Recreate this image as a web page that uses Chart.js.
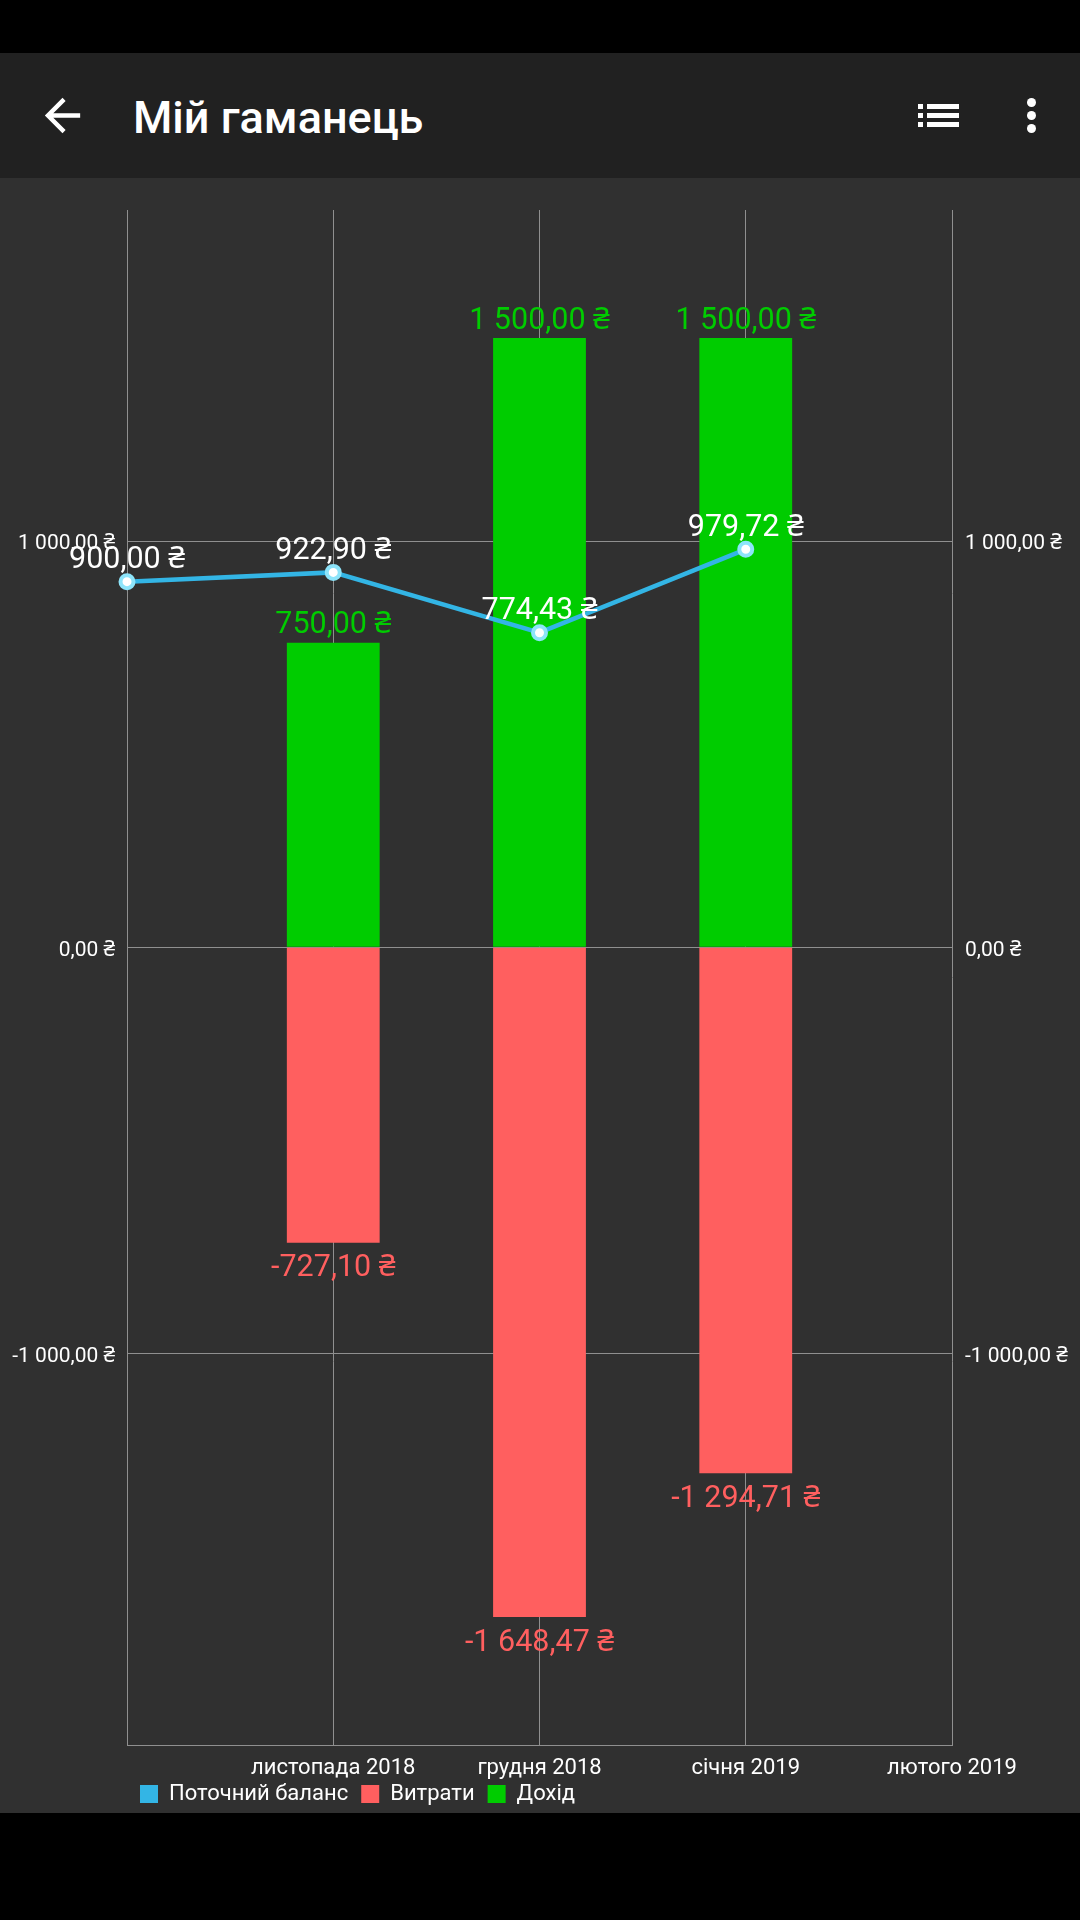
<!DOCTYPE html>
<html>
<head>
<meta charset="utf-8">
<script src="https://cdn.jsdelivr.net/npm/chart.js@4/dist/chart.umd.min.js"></script>
<style>
  html, body { margin:0; padding:0; width:1080px; height:1920px; background:#000; overflow:hidden; font-family: Roboto, "Noto Sans", sans-serif; }
  #toolbar { position:absolute; left:0; top:53px; width:1080px; height:125px; background:#212121; }
  #title { position:absolute; left:133px; top:88px; height:60px; line-height:60px; font-size:45px; font-weight:500; color:#fff; white-space:nowrap; }
  #panel { position:absolute; left:0; top:178px; width:1080px; height:1635px; background:#303030; }
  #chart { position:absolute; left:0; top:0; }
  svg { position:absolute; }
</style>
</head>
<body>
<div id="toolbar"></div>
<svg style="left:36px;top:89px" width="53" height="53" viewBox="0 0 24 24"><path fill="#fff" d="M20 11H7.83l5.59-5.59L12 4l-8 8 8 8 1.41-1.41L7.83 13H20v-2z"/></svg>
<div id="title">Мій гаманець</div>
<svg style="left:910px;top:96px" width="60" height="40" viewBox="0 0 60 40">
  <rect x="8" y="8" width="5" height="5" fill="#fff"/><rect x="17" y="8" width="32" height="5" fill="#fff"/>
  <rect x="8" y="17" width="5" height="5" fill="#fff"/><rect x="17" y="17" width="32" height="5" fill="#fff"/>
  <rect x="8" y="26" width="5" height="5" fill="#fff"/><rect x="17" y="26" width="32" height="5" fill="#fff"/>
</svg>
<svg style="left:1011px;top:90px" width="40" height="52" viewBox="0 0 40 52">
  <circle cx="20.5" cy="12.5" r="4.5" fill="#fff"/><circle cx="20.5" cy="25.5" r="4.5" fill="#fff"/><circle cx="20.5" cy="38.5" r="4.5" fill="#fff"/>
</svg>
<div id="panel"><canvas id="chart" width="1080" height="1638"></canvas></div>
<script>
// ---- data ----
const MONTHS = ['', 'листопада 2018', 'грудня 2018', 'січня 2019', 'лютого 2019'];
const BALANCE = [900.00, 922.90, 774.43, 979.72, null];
const EXPENSES = [null, -727.10, -1648.47, -1294.71, null];
const INCOME = [null, 750.00, 1500.00, 1500.00, null];
const Y_TICKS = [-1000, 0, 1000];
const Y_MIN = -1963.317;
const Y_MAX = 1814.847;
const SERIES_NAMES = ['Поточний баланс', 'Витрати', 'Дохід'];

const FONT = 'Roboto, "Noto Sans", "DejaVu Sans", sans-serif';
const BLUE = '#33b5e5', RED = '#ff5f5f', GREEN = '#00cc00', GRID = '#8f8f8f';

function fmt(v) {
  const neg = v < 0;
  const parts = Math.abs(v).toFixed(2).split('.');
  const intPart = parts[0].replace(/\B(?=(\d{3})+(?!\d))/g, ' ');
  return (neg ? '-' : '') + intPart + ',' + parts[1] + ' ₴';
}

const valueLabels = {
  id: 'valueLabels',
  beforeDraw(chart) {
    // let the x tick labels overflow their (thin) box instead of being clipped
    chart.scales.x._computeLabelArea = function () { return undefined; };
  },
  afterDatasetsDraw(chart) {
    const ctx = chart.ctx;
    ctx.save();
    ctx.font = '30.5px ' + FONT;
    ctx.textAlign = 'center';
    ctx.textBaseline = 'middle';
    chart.getSortedVisibleDatasetMetas().slice().reverse().forEach(meta => {
      const ds = chart.data.datasets[meta.index];
      meta.data.forEach((el, i) => {
        const v = ds.data[i];
        if (v === null || v === undefined) return;
        let y;
        if (meta.type === 'line') { ctx.fillStyle = '#ffffff'; y = el.y - 21; }
        else if (v >= 0) { ctx.fillStyle = ds.backgroundColor; y = el.y - 17; }
        else { ctx.fillStyle = ds.backgroundColor; y = el.y + 26; }
        ctx.fillText(fmt(v), el.x, y);
      });
    });
    ctx.restore();
  }
};

const yAxisCommon = {
  type: 'linear',
  min: Y_MIN,
  max: Y_MAX,
  afterBuildTicks: (s) => { s.ticks = Y_TICKS.map(v => ({ value: v })); },
  ticks: { color: '#ffffff', font: { size: 21, family: FONT }, labelOffset: 3, callback: (v) => fmt(v) }
};

new Chart(document.getElementById('chart'), {
  data: {
    labels: MONTHS,
    datasets: [
      {
        type: 'line', label: SERIES_NAMES[0], data: BALANCE, order: 0,
        borderColor: BLUE, backgroundColor: BLUE, borderWidth: 4.5,
        pointRadius: 6.5, pointBorderWidth: 4, pointBackgroundColor: '#ffffff', pointBorderColor: '#8de4fa',
        tension: 0, spanGaps: false, clip: false, yAxisID: 'y'
      },
      {
        type: 'bar', label: SERIES_NAMES[1], data: EXPENSES, order: 1,
        backgroundColor: RED, grouped: false, categoryPercentage: 0.45, barPercentage: 1, yAxisID: 'y'
      },
      {
        type: 'bar', label: SERIES_NAMES[2], data: INCOME, order: 1,
        backgroundColor: GREEN, grouped: false, categoryPercentage: 0.45, barPercentage: 1, yAxisID: 'y'
      }
    ]
  },
  options: {
    responsive: false,
    devicePixelRatio: 1,
    animation: false,
    layout: { padding: { top: 32, left: 0, right: 0, bottom: 1 } },
    scales: {
      x: {
        type: 'category', offset: false,
        grid: { color: GRID, lineWidth: 1, offset: false, drawTicks: false },
        border: { display: true, color: GRID, width: 1 },
        ticks: { color: '#ffffff', font: { size: 22, family: FONT }, autoSkip: false, maxRotation: 0, padding: 10 },
        afterFit: (s) => { s.height = 25; }
      },
      y: Object.assign({}, yAxisCommon, {
        position: 'left',
        grid: { color: GRID, lineWidth: 1, drawTicks: false },
        border: { display: true, color: GRID, width: 1 },
        ticks: Object.assign({}, yAxisCommon.ticks, { padding: 12 }),
        afterFit: (s) => { s.width = 127; }
      }),
      y2: Object.assign({}, yAxisCommon, {
        position: 'right', display: true,
        grid: { display: false, drawTicks: false },
        border: { display: false },
        ticks: Object.assign({}, yAxisCommon.ticks, { padding: 13 }),
        afterFit: (s) => { s.width = 128; }
      })
    },
    plugins: {
      tooltip: { enabled: false },
      legend: {
        position: 'bottom', align: 'start', fullSize: false,
        labels: {
          color: '#ffffff', boxWidth: 18, boxHeight: 18, padding: 13,
          font: { size: 22, family: FONT },
          generateLabels: (chart) => Chart.defaults.plugins.legend.labels.generateLabels(chart).map(l => Object.assign(l, { lineWidth: 0, strokeStyle: 'rgba(0,0,0,0)' }))
        }
      }
    }
  },
  plugins: [valueLabels]
});
</script>
</body>
</html>
